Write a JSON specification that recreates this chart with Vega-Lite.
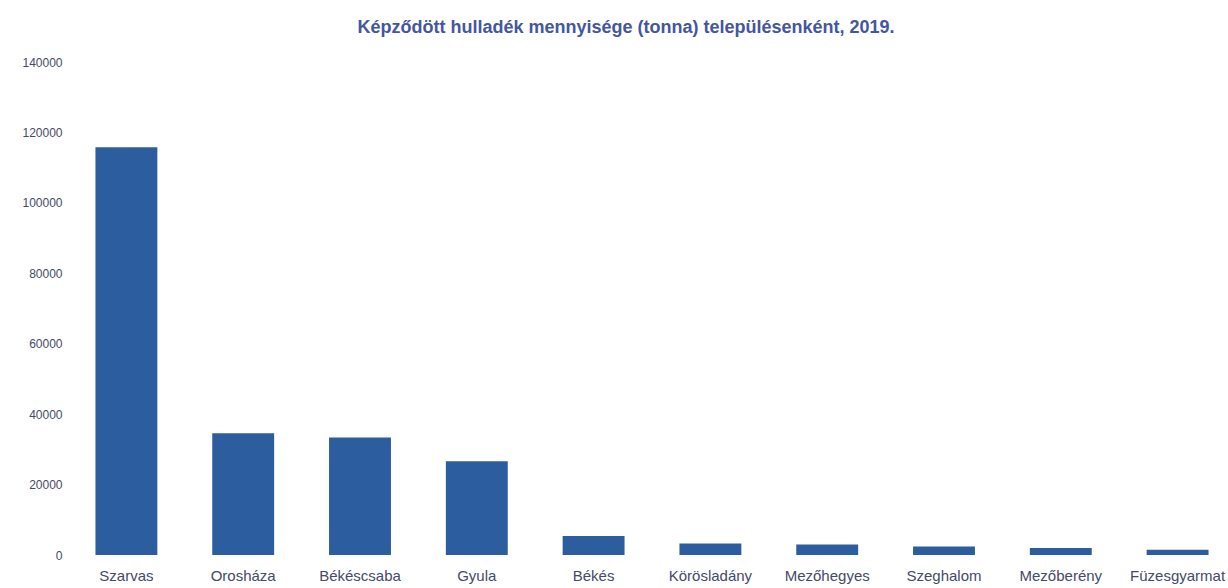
{
  "$schema": "https://vega.github.io/schema/vega-lite/v6.json",
  "width": 1168,
  "height": 493,
  "autosize": {"type": "none"},
  "padding": {"left": 68, "top": 62, "right": 0, "bottom": 33},
  "background": "white",
  "title": {
    "text": "Képződött hulladék mennyisége (tonna) településenként, 2019.",
    "fontSize": 18,
    "font": "Liberation Sans",
    "fontWeight": "bold",
    "color": "#4456a0",
    "anchor": "middle",
    "dx": -26,
    "offset": 19
  },
  "data": {
    "values": [
      {"telepules": "Szarvas", "tonna": 115800},
      {"telepules": "Orosháza", "tonna": 34600},
      {"telepules": "Békéscsaba", "tonna": 33400},
      {"telepules": "Gyula", "tonna": 26600},
      {"telepules": "Békés", "tonna": 5400},
      {"telepules": "Körösladány", "tonna": 3300},
      {"telepules": "Mezőhegyes", "tonna": 3000},
      {"telepules": "Szeghalom", "tonna": 2400},
      {"telepules": "Mezőberény", "tonna": 2000},
      {"telepules": "Füzesgyarmat", "tonna": 1500}
    ]
  },
  "mark": {"type": "bar", "color": "#2C5D9F"},
  "encoding": {
    "x": {
      "field": "telepules",
      "type": "nominal",
      "sort": null,
      "scale": {"paddingInner": 0.47, "paddingOuter": 0.235},
      "axis": {
        "title": null,
        "labelAngle": 0,
        "domain": false,
        "ticks": false,
        "labelFont": "Liberation Sans",
        "labelFontSize": 15,
        "labelColor": "#454a68",
        "labelPadding": 13
      }
    },
    "y": {
      "field": "tonna",
      "type": "quantitative",
      "scale": {"domain": [0, 140000]},
      "axis": {
        "title": null,
        "values": [0, 20000, 40000, 60000, 80000, 100000, 120000, 140000],
        "format": "d",
        "grid": false,
        "domain": false,
        "ticks": false,
        "labelFont": "Liberation Sans",
        "labelFontSize": 12,
        "labelColor": "#454a68",
        "labelPadding": 6
      }
    }
  },
  "config": {"view": {"stroke": null}}
}
